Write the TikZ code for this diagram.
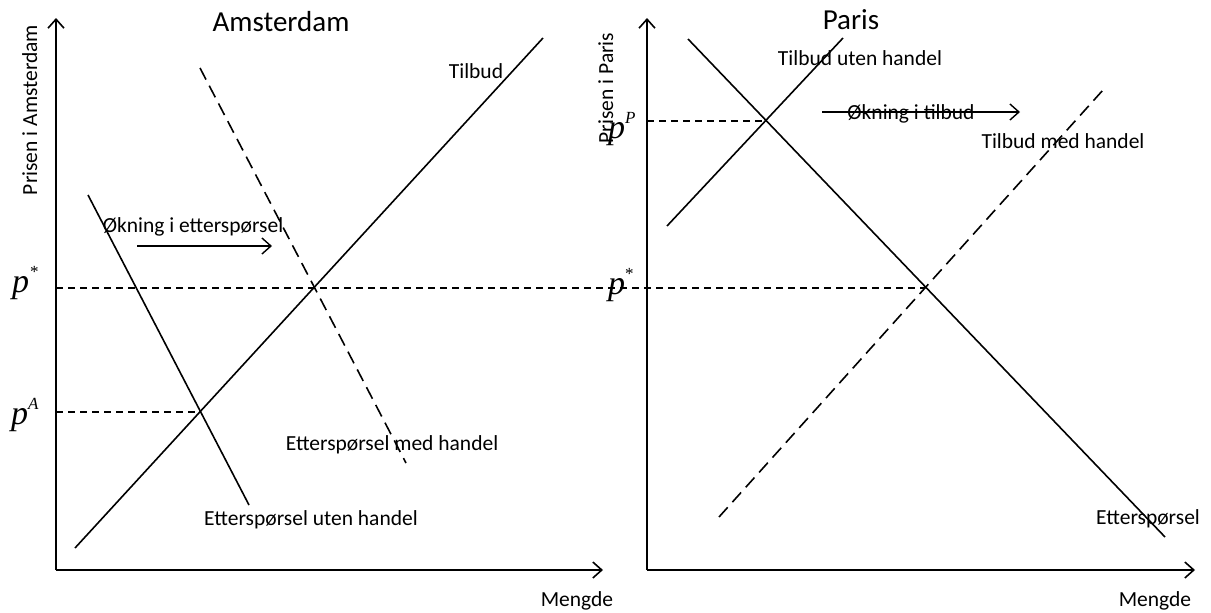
\documentclass[tikz,border=0pt]{standalone}
\usepackage{fontspec}
\setmainfont{Carlito}
\newfontfamily\eqfont{Liberation Serif}
\usetikzlibrary{arrows.meta}

% price label: italic p with a small superscript
\newcommand\pricelabel[2]{{\eqfont\fontsize{34}{34}\selectfont\itshape p}\hspace{#2}\raisebox{15pt}{\eqfont\fontsize{17}{17}\selectfont #1}}

\begin{document}
\begin{tikzpicture}[x=1pt,y=-1pt,
  curve/.style={line width=1.6pt},
  tradecurve/.style={line width=1.6pt, dash pattern=on 13pt off 7pt},
  guide/.style={line width=1.3pt, dash pattern=on 7pt off 5pt},
  axis/.style={line width=1.6pt, -{Straight Barb[length=9pt,width=16pt]}},
  shiftarrow/.style={line width=1.4pt, -{Straight Barb[length=9pt,width=16pt]}},
  lbl/.style={font=\fontsize{21.5}{26}\selectfont, inner sep=0pt, anchor=base},
  ttl/.style={font=\fontsize{29}{34}\selectfont, inner sep=0pt, anchor=base},
  plbl/.style={inner sep=0pt, anchor=base west}]
\useasboundingbox (0,0) rectangle (1211,613);

% ---------------- Amsterdam ----------------
\coordinate (A-origin) at (56,570);
\coordinate (A-ytop) at (56,18);
\coordinate (A-xend) at (603,570);
\draw[axis] (A-origin) -- (A-ytop);
\draw[axis] (A-origin) -- (A-xend);

\coordinate (A-s1) at (75,548);
\coordinate (A-s2) at (543,38);
\coordinate (A-d1) at (88,195);
\coordinate (A-d2) at (249,505);
\coordinate (A-t1) at (200,68);
\coordinate (A-t2) at (406,463);
\draw[curve] (A-s1) -- (A-s2);
\draw[curve] (A-d1) -- (A-d2);
\draw[tradecurve] (A-t1) -- (A-t2);

\coordinate (A-pstar) at (56,288);
\coordinate (P-eq) at (925,288);
\coordinate (A-pA) at (56,412);
\coordinate (A-eq) at (200,412);
\draw[guide] (A-pstar) -- (P-eq);
\draw[guide] (A-pA) -- (A-eq);

\coordinate (A-arr1) at (137,246);
\coordinate (A-arr2) at (272,246);
\draw[shiftarrow] (A-arr1) -- (A-arr2);

\node[ttl] (A-title) at (281,31) {Amsterdam};
\node[lbl, rotate=90] (A-ylabel) at (37,110) {Prisen i Amsterdam};
\node[lbl] (A-xlabel) at (577,606) {Mengde};
\node[lbl] (A-supply) at (476,78) {Tilbud};
\node[lbl] (A-shift) at (193,232) {Økning i etterspørsel};
\node[lbl] (A-dtrade) at (392,450) {Etterspørsel med handel};
\node[lbl] (A-dnotrade) at (311,525) {Etterspørsel uten handel};
\node[plbl] (A-pstarlbl) at (12,292) {\pricelabel{*}{1pt}};
\node[plbl] (A-pAlbl) at (11,424) {\pricelabel{\itshape A}{0pt}};

% ---------------- Paris ----------------
\coordinate (P-origin) at (647,570);
\coordinate (P-ytop) at (647,18);
\coordinate (P-xend) at (1195,570);
\draw[axis] (P-origin) -- (P-ytop);
\draw[axis] (P-origin) -- (P-xend);

\coordinate (P-s1) at (667,226);
\coordinate (P-s2) at (843,38);
\coordinate (P-t1) at (719,517);
\coordinate (P-t2) at (1103,90);
\coordinate (P-d1) at (688,39);
\coordinate (P-d2) at (1165,537);
\draw[curve] (P-s1) -- (P-s2);
\draw[tradecurve] (P-t1) -- (P-t2);
\draw[curve] (P-d1) -- (P-d2);

\coordinate (P-pP) at (647,121);
\coordinate (P-aut) at (766,121);
\draw[guide] (P-pP) -- (P-aut);

\coordinate (P-arr1) at (822,112);
\coordinate (P-arr2) at (1020,112);
\draw[shiftarrow] (P-arr1) -- (P-arr2);

\node[ttl] (P-title) at (851,29) {Paris};
\node[lbl, rotate=90] (P-ylabel) at (613,88) {Prisen i Paris};
\node[lbl] (P-xlabel) at (1155,606) {Mengde};
\node[lbl] (P-snotrade) at (860,65) {Tilbud uten handel};
\node[lbl] (P-shift) at (911,119) {Økning i tilbud};
\node[lbl] (P-strade) at (1063,148) {Tilbud med handel};
\node[lbl] (P-demand) at (1148,524) {Etterspørsel};
\node[plbl] (P-pPlbl) at (608,138) {\pricelabel{\itshape P}{0pt}};
\node[plbl] (P-pstarlbl) at (608,294) {\pricelabel{*}{0pt}};
\end{tikzpicture}
\end{document}
